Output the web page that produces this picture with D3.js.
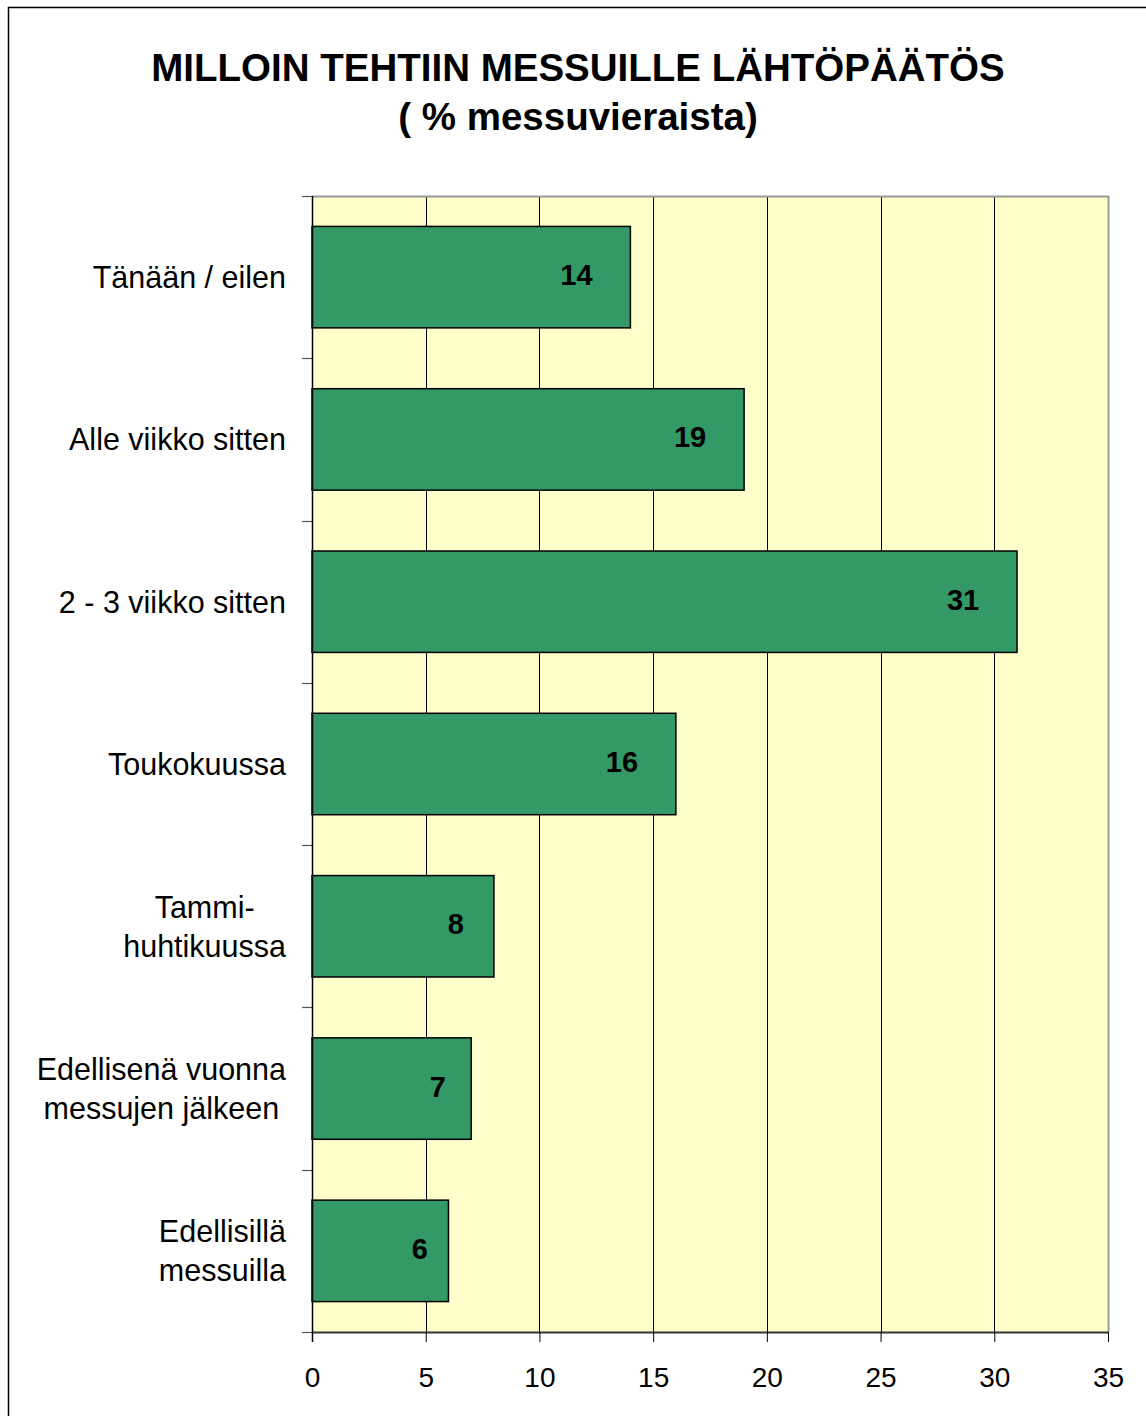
<!DOCTYPE html>
<html>
<head>
<meta charset="utf-8">
<script src="https://cdn.jsdelivr.net/npm/d3@7"></script>
<style>
  body { margin: 0; background: #fff; }
  svg { display: block; font-family: "Liberation Sans", Arial, sans-serif; }
</style>
</head>
<body>
<div id="chart"></div>
<script>
// data
var categories = [
  ["Tänään / eilen"],
  ["Alle viikko sitten"],
  ["2 - 3 viikko sitten"],
  ["Toukokuussa"],
  ["Tammi-", "huhtikuussa"],
  ["Edellisenä vuonna", "messujen jälkeen"],
  ["Edellisillä", "messuilla"]
];
var values = [14, 19, 31, 16, 8, 7, 6];
var xTicks = [0, 5, 10, 15, 20, 25, 30, 35];
var titleLines = ["MILLOIN TEHTIIN MESSUILLE LÄHTÖPÄÄTÖS", "( % messuvieraista)"];

var W = 1146, H = 1416;
var pLeft = 312, pRight = 1108, pTop = 196, pBottom = 1332;

var svg = d3.select("#chart").append("svg")
    .attr("width", W)
    .attr("height", H);

// outer frame (runs off the right / bottom edge)
svg.append("rect")
    .attr("x", 8.5).attr("y", 7.5)
    .attr("width", 1160).attr("height", 1430)
    .attr("fill", "#fff")
    .attr("stroke", "#000")
    .attr("stroke-width", 1.5);

// title
svg.append("g").selectAll("text")
    .data(titleLines)
    .join("text")
    .attr("x", 578)
    .attr("y", function(d, i) { return 81 + i * 49; })
    .attr("text-anchor", "middle")
    .attr("font-weight", "bold")
    .attr("font-size", 38.5)
    .text(function(d) { return d; });

var x = d3.scaleLinear().domain([0, 35]).range([pLeft, pRight]);
var y = d3.scaleBand()
    .domain(d3.range(categories.length))
    .range([pTop, pBottom])
    .paddingInner(0.375)
    .paddingOuter(0.1875);

// plot background
svg.append("rect")
    .attr("x", pLeft).attr("y", pTop)
    .attr("width", pRight - pLeft).attr("height", pBottom - pTop)
    .attr("fill", "#ffffcc");

// gridlines
svg.append("g").selectAll("line")
    .data(xTicks.filter(function(d) { return d > 0 && d < 35; }))
    .join("line")
    .attr("x1", function(d) { return Math.round(x(d)) + 0.5; })
    .attr("x2", function(d) { return Math.round(x(d)) + 0.5; })
    .attr("y1", pTop).attr("y2", pBottom)
    .attr("stroke", "#000")
    .attr("stroke-width", 1);

// grey plot border top / right
svg.append("path")
    .attr("d", "M" + pLeft + "," + (pTop + 0.5) + "H" + (pRight + 0.5) + "V" + pBottom)
    .attr("fill", "none")
    .attr("stroke", "#999")
    .attr("stroke-width", 2);

// bars
svg.append("g").selectAll("rect")
    .data(values)
    .join("rect")
    .attr("x", pLeft)
    .attr("y", function(d, i) { return y(i); })
    .attr("width", function(d) { return x(d) - x(0); })
    .attr("height", y.bandwidth())
    .attr("fill", "#339966")
    .attr("stroke", "#000")
    .attr("stroke-width", 1.5);

// value labels
svg.append("g").selectAll("text")
    .data(values)
    .join("text")
    .attr("x", function(d) {
      var w = x(d) - x(0);
      return x(d) - Math.min(54, w * 0.21);
    })
    .attr("y", function(d, i) { return y(i) + y.bandwidth() / 2 + 8; })
    .attr("text-anchor", "middle")
    .attr("font-weight", "bold")
    .attr("font-size", 29)
    .text(function(d) { return d; });

// x axis
var xAxis = svg.append("g")
    .attr("transform", "translate(0," + pBottom + ")")
    .call(d3.axisBottom(x).tickValues(xTicks).tickSize(10).tickSizeOuter(0).tickPadding(25));
xAxis.select(".domain").attr("stroke", "#333").attr("stroke-width", 2);
xAxis.selectAll(".tick line").attr("stroke", "#000");
xAxis.selectAll(".tick text")
    .attr("font-size", 28)
    .attr("font-family", "Liberation Sans, Arial, sans-serif")
    .attr("fill", "#000");

// y axis: line + ticks at band boundaries
var bounds = d3.range(categories.length + 1).map(function(i) {
  return pTop + i * (pBottom - pTop) / categories.length;
});
svg.append("g").selectAll("line")
    .data(bounds)
    .join("line")
    .attr("x1", pLeft - 10).attr("x2", pLeft)
    .attr("y1", function(d) { return Math.round(d) + 0.5; })
    .attr("y2", function(d) { return Math.round(d) + 0.5; })
    .attr("stroke", "#555")
    .attr("stroke-width", 1.2);
svg.append("line")
    .attr("x1", pLeft + 0.5).attr("x2", pLeft + 0.5)
    .attr("y1", pTop).attr("y2", pBottom + 10)
    .attr("stroke", "#000")
    .attr("stroke-width", 1.5);

// category labels (multi-line labels centred in a right-aligned block)
var labelRight = 286;
categories.forEach(function(lines, i) {
  var cy = y(i) + y.bandwidth() / 2;
  var g = svg.append("g");
  var texts = g.selectAll("text")
      .data(lines)
      .join("text")
      .attr("font-size", 30.5)
      .attr("y", function(d, j) { return cy + 11 + (j - (lines.length - 1) / 2) * 39; })
      .text(function(d) { return d; });
  var maxW = 0;
  texts.each(function() { maxW = Math.max(maxW, this.getComputedTextLength()); });
  texts.attr("text-anchor", "middle").attr("x", labelRight - maxW / 2);
});
</script>
</body>
</html>
